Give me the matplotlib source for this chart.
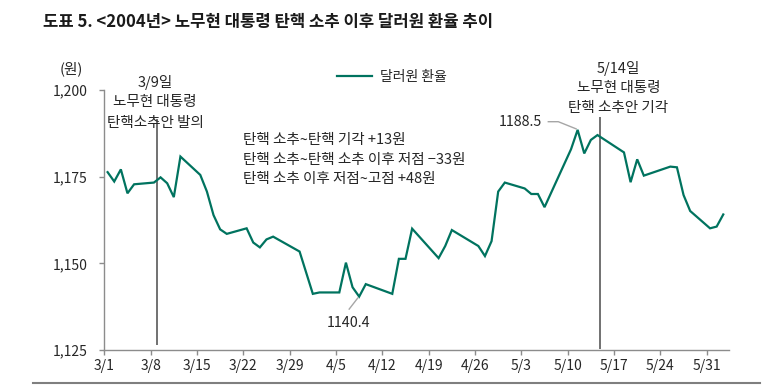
import matplotlib
matplotlib.use('Agg')
import matplotlib.pyplot as plt
import matplotlib.dates as mdates
from matplotlib.lines import Line2D
import pandas as pd

plt.rcParams['font.family'] = ['Noto Sans CJK KR', 'DejaVu Sans']

# ---------------- data ----------------
dates = ['2004-03-01', '2004-03-02', '2004-03-03', '2004-03-04', '2004-03-05',
         '2004-03-08', '2004-03-09', '2004-03-10', '2004-03-11', '2004-03-12',
         '2004-03-15', '2004-03-16', '2004-03-17', '2004-03-18', '2004-03-19',
         '2004-03-22', '2004-03-23', '2004-03-24', '2004-03-25', '2004-03-26',
         '2004-03-30', '2004-04-01', '2004-04-02', '2004-04-05', '2004-04-06',
         '2004-04-07', '2004-04-08', '2004-04-09', '2004-04-13', '2004-04-14',
         '2004-04-15', '2004-04-16', '2004-04-20', '2004-04-21', '2004-04-22',
         '2004-04-26', '2004-04-27', '2004-04-28', '2004-04-29', '2004-04-30',
         '2004-05-03', '2004-05-04', '2004-05-05', '2004-05-06', '2004-05-10',
         '2004-05-11', '2004-05-12', '2004-05-13', '2004-05-14', '2004-05-18',
         '2004-05-19', '2004-05-20', '2004-05-21', '2004-05-25', '2004-05-26',
         '2004-05-27', '2004-05-28', '2004-05-31', '2004-06-01', '2004-06-02']
usdkrw = [1176.3, 1173.6, 1177.1, 1170.2, 1172.8,
          1173.3, 1174.8, 1173.1, 1169.1, 1180.8,
          1175.5, 1170.7, 1163.9, 1159.8, 1158.5,
          1160.1, 1156.0, 1154.6, 1156.9, 1157.7,
          1153.4, 1141.2, 1141.6, 1141.6, 1150.2,
          1143.1, 1140.4, 1144.0, 1141.2, 1151.3,
          1151.3, 1160.0, 1151.5, 1155.0, 1159.6,
          1155.0, 1152.1, 1156.4, 1170.7, 1173.3,
          1171.6, 1170.0, 1170.0, 1166.2, 1182.9,
          1188.5, 1181.7, 1185.6, 1187.0, 1182.0,
          1173.4, 1180.0, 1175.3, 1177.9, 1177.7,
          1169.7, 1165.1, 1160.1, 1160.6, 1164.1]
series_name = '달러원 환율'

tick_dates = ['2004-03-01', '2004-03-08', '2004-03-15', '2004-03-22', '2004-03-29',
              '2004-04-05', '2004-04-12', '2004-04-19', '2004-04-26', '2004-05-03',
              '2004-05-10', '2004-05-17', '2004-05-24', '2004-05-31']
tick_labels = ['3/1', '3/8', '3/15', '3/22', '3/29', '4/5', '4/12', '4/19',
               '4/26', '5/3', '5/10', '5/17', '5/24', '5/31']
y_ticks = [1125, 1150, 1175, 1200]
y_tick_labels = ['1,125', '1,150', '1,175', '1,200']

event_dates = ['2004-03-09', '2004-05-14']
event_texts = [['3/9일', '노무현 대통령', '탄핵소추안 발의'],
               ['5/14일', '노무현 대통령', '탄핵 소추안 기각']]
summary_lines = ['탄핵 소추~탄핵 기각 +13원',
                 '탄핵 소추~탄핵 소추 이후 저점 \u221233원',
                 '탄핵 소추 이후 저점~고점 +48원']
low_date, low_value = '2004-04-08', 1140.4
high_date, high_value = '2004-05-11', 1188.5
title = '도표 5. <2004년> 노무현 대통령 탄핵 소추 이후 달러원 환율 추이'
unit_label = '(원)'

# ---------------- layout ----------------
W, H = 773, 385
fig = plt.figure(figsize=(W / 100, H / 100), dpi=100)

def fx(x):
    return x / W

def fy(y):
    return 1 - y / H

ax_l, ax_r, ax_t, ax_b = 104.3, 729.0, 90.0, 350.0
ax = fig.add_axes([fx(ax_l), fy(ax_b), (ax_r - ax_l) / W, (ax_b - ax_t) / H])

LINE_C = '#00735F'
TXT_C = '#262626'
AX_C = '#8C8C8C'
FS = 10.5

x = mdates.date2num(pd.to_datetime(dates)) + 0.5   # points sit mid-day
line, = ax.plot(x, usdkrw, color=LINE_C, lw=1.6, solid_joinstyle='miter',
                label=series_name, zorder=3)

x0 = mdates.date2num(pd.Timestamp('2004-03-01'))
ax.set_xlim(x0, x0 + (ax_r - ax_l) / 6.62)
ax.set_ylim(1125, 1200)

ax.set_xticks(mdates.date2num(pd.to_datetime(tick_dates)))
ax.set_xticklabels(tick_labels)
ax.set_yticks(y_ticks)
ax.set_yticklabels(y_tick_labels)

for s in ['top', 'right']:
    ax.spines[s].set_visible(False)
for s in ['left', 'bottom']:
    ax.spines[s].set_color(AX_C)
    ax.spines[s].set_linewidth(1.0)
ax.tick_params(axis='both', colors=AX_C, labelcolor=TXT_C, labelsize=10,
               length=3.5, width=1.0, direction='out')
ax.tick_params(axis='y', pad=8.5)
ax.tick_params(axis='x', pad=3)

# event lines
ev_x = mdates.date2num(pd.to_datetime(event_dates))
ev_shift = [0.0, 0.9]
ev_ranges = [(1126.4, 1191.6), (1125.2, 1192.3)]
for ex, sh, (lo, hi) in zip(ev_x, ev_shift, ev_ranges):
    ax.vlines(ex + sh, lo, hi, color='#595959', lw=1.2, zorder=2)

# event texts
ev_text_pos = [(155, [82, 102.5, 123]), (618.3, [68, 88, 108])]
for (cx, ys), lines in zip(ev_text_pos, event_texts):
    for yy, t in zip(ys, lines):
        fig.text(fx(cx), fy(yy), t, ha='center', va='center', fontsize=FS,
                 color=TXT_C)

# summary text
for yy, t in zip([140, 159.5, 179], summary_lines):
    fig.text(fx(243.3), fy(yy), t, ha='left', va='center', fontsize=FS,
             color=TXT_C)

# low / high labels with leader lines
def data_px(d, v):
    px, py = ax.transData.transform((mdates.date2num(pd.Timestamp(d)) + 0.5, v))
    return px, H - py

lx, ly = data_px(low_date, low_value)
fig.add_artist(Line2D([fx(lx - 1.5), fx(lx - 10)], [fy(ly + 1.5), fy(ly + 12.5)],
                      color='#A6A6A6', lw=1.0))
fig.text(fx(349), fy(323), f'{low_value:.1f}', ha='center', va='center',
         fontsize=10.3, color=TXT_C)

hx, hy = data_px(high_date, high_value)
fig.add_artist(Line2D([fx(hx - 1.5), fx(558.3), fx(548.3)],
                      [fy(hy - 1), fy(121.7), fy(121.7)],
                      color='#A6A6A6', lw=1.0))
fig.text(fx(542.5), fy(121.7), f'{high_value:.1f}', ha='right', va='center',
         fontsize=10.3, color=TXT_C)

# legend
leg = fig.legend(handles=[line], loc='center left',
                 bbox_to_anchor=(fx(337), fy(77)), frameon=False,
                 fontsize=10, handlelength=2.5, handletextpad=0.6,
                 borderpad=0, borderaxespad=0)
for t in leg.get_texts():
    t.set_color(TXT_C)

# unit
fig.text(fx(71.5), fy(69), unit_label, ha='center', va='center', fontsize=10.5,
         color=TXT_C)

# title
fig.text(fx(43), fy(22), title, ha='left', va='center', fontsize=12,
         fontweight='bold', color='#1a1a1a')

# bottom rule
fig.add_artist(Line2D([fx(33), fx(760)], [fy(383), fy(383)], color='#7F7F7F',
                      lw=1.5))

fig.savefig('out.png', dpi=100)
